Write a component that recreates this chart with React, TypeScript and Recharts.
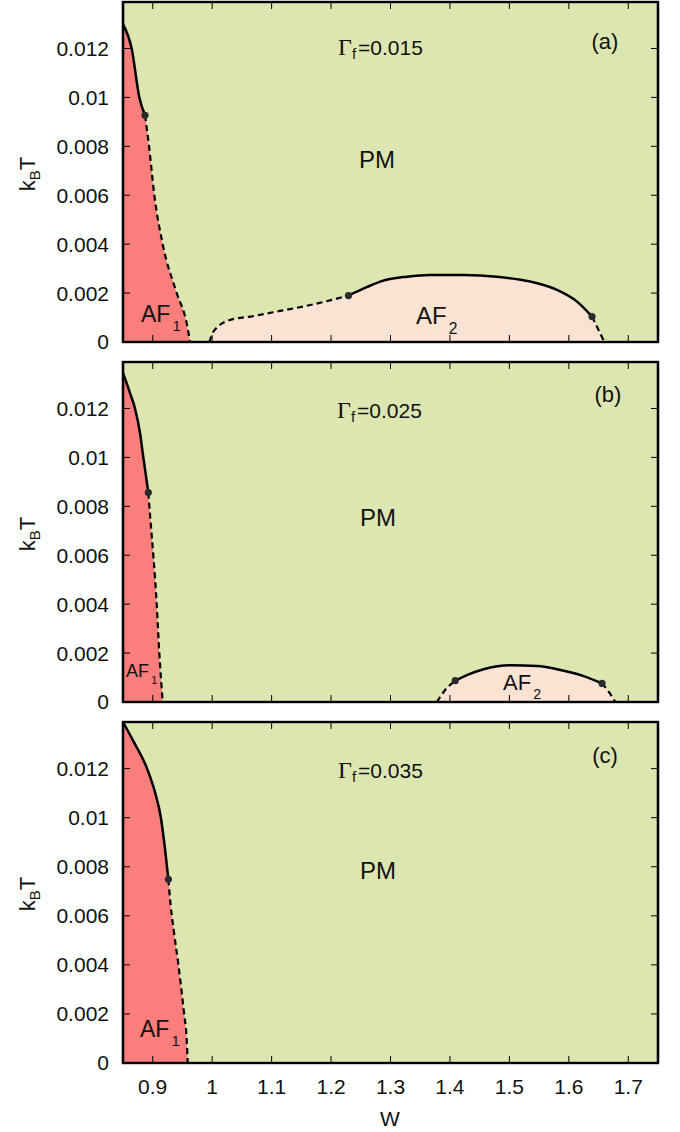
import React from 'react';
import { ComposedChart, Area, Line, Scatter, XAxis, YAxis, CartesianGrid } from 'recharts';

type Pt = { w: number; t: number };

const W_TICKS = [0.9, 1, 1.1, 1.2, 1.3, 1.4, 1.5, 1.6, 1.7];
const T_TICKS = [0, 0.002, 0.004, 0.006, 0.008, 0.01, 0.012];
const W_DOMAIN = [0.85, 1.75];
const T_DOMAIN = [0, 0.0139];

// (a) Gamma_f = 0.015
const af1SolidA: Pt[] = [
  { w: 0.85, t: 0.0130 }, { w: 0.8646, t: 0.0120 }, { w: 0.8775, t: 0.0100 }, { w: 0.887, t: 0.00927 },
];
const af1DashA: Pt[] = [
  { w: 0.887, t: 0.00927 }, { w: 0.8938, t: 0.0080 }, { w: 0.9027, t: 0.0060 }, { w: 0.9168, t: 0.0040 },
  { w: 0.9404, t: 0.0020 }, { w: 0.9572, t: 0.00076 }, { w: 0.9628, t: 0 },
];
const af2LeftA: Pt[] = [
  { w: 0.9953, t: 0 }, { w: 1.002, t: 0.00042 }, { w: 1.03, t: 0.0009 }, { w: 1.0694, t: 0.00106 },
  { w: 1.1143, t: 0.00127 }, { w: 1.1704, t: 0.00154 }, { w: 1.2293, t: 0.0019 },
];
const af2SolidA: Pt[] = [
  { w: 1.2293, t: 0.0019 }, { w: 1.26, t: 0.00224 }, { w: 1.2827, t: 0.00247 }, { w: 1.3276, t: 0.00267 },
  { w: 1.3668, t: 0.00274 }, { w: 1.4229, t: 0.00274 }, { w: 1.4791, t: 0.00267 }, { w: 1.5352, t: 0.00247 },
  { w: 1.58, t: 0.00213 }, { w: 1.6138, t: 0.00165 }, { w: 1.639, t: 0.00104 },
];
const af2RightA: Pt[] = [{ w: 1.639, t: 0.00104 }, { w: 1.65, t: 0.00049 }, { w: 1.6598, t: 0 }];
const dotsA: Pt[] = [{ w: 0.887, t: 0.00927 }, { w: 1.2293, t: 0.0019 }, { w: 1.639, t: 0.00104 }];

// (b) Gamma_f = 0.025
const af1SolidB: Pt[] = [
  { w: 0.85, t: 0.01345 }, { w: 0.8618, t: 0.01263 }, { w: 0.8702, t: 0.0120 }, { w: 0.8786, t: 0.0110 },
  { w: 0.8842, t: 0.0100 }, { w: 0.8926, t: 0.00856 },
];
const af1DashB: Pt[] = [
  { w: 0.8926, t: 0.00856 }, { w: 0.8966, t: 0.00731 }, { w: 0.901, t: 0.0060 }, { w: 0.9067, t: 0.0040 },
  { w: 0.9111, t: 0.0020 }, { w: 0.9168, t: 0 },
];
const af2LeftB: Pt[] = [{ w: 1.3781, t: 0 }, { w: 1.392, t: 0.00049 }, { w: 1.4089, t: 0.00087 }];
const af2SolidB: Pt[] = [
  { w: 1.4089, t: 0.00087 }, { w: 1.4286, t: 0.0011 }, { w: 1.4566, t: 0.00134 }, { w: 1.5015, t: 0.0015 },
  { w: 1.5465, t: 0.00147 }, { w: 1.5857, t: 0.00131 }, { w: 1.6249, t: 0.00106 }, { w: 1.6559, t: 0.00076 },
];
const af2RightB: Pt[] = [{ w: 1.6559, t: 0.00076 }, { w: 1.6687, t: 0.00036 }, { w: 1.6783, t: 0 }];
const dotsB: Pt[] = [{ w: 0.8926, t: 0.00856 }, { w: 1.4089, t: 0.00087 }, { w: 1.6559, t: 0.00076 }];

// (c) Gamma_f = 0.035
const af1SolidC: Pt[] = [
  { w: 0.85, t: 0.0139 }, { w: 0.8674, t: 0.01312 }, { w: 0.8899, t: 0.01204 }, { w: 0.9039, t: 0.01103 },
  { w: 0.9134, t: 0.01005 }, { w: 0.9207, t: 0.00872 }, { w: 0.9263, t: 0.00749 },
];
const af1DashC: Pt[] = [
  { w: 0.9263, t: 0.00749 }, { w: 0.9303, t: 0.0064 }, { w: 0.9359, t: 0.0053 }, { w: 0.9431, t: 0.00402 },
  { w: 0.9527, t: 0.00203 }, { w: 0.9572, t: 0.00094 }, { w: 0.9589, t: 0 },
];
const dotsC: Pt[] = [{ w: 0.9263, t: 0.00749 }];

const GREEN = '#dce6b0';
const RED = '#fa7e7b';
const PINK = '#fbe3d4';
const SANS = '"Liberation Sans", Arial, Helvetica, sans-serif';
const SERIF = '"Liberation Serif", "Times New Roman", serif';

const tickStyle = { fontSize: 21, fill: '#111', fontFamily: SANS };
const blank = () => '';

const TOP_H = 30;

interface PanelProps {
  af1Solid: Pt[];
  af1Dash: Pt[];
  af2Left?: Pt[];
  af2Solid?: Pt[];
  af2Right?: Pt[];
  dots: Pt[];
  showW: boolean;
  plotHeight: number;
}

const Dot = (p: any) => <circle cx={p.cx} cy={p.cy} r={3.6} fill="#2a2a2a" />;

const Panel: React.FC<PanelProps> = ({ af1Solid, af1Dash, af2Left, af2Solid, af2Right, dots, showW, plotHeight }) => {
  const af1Fill = [...af1Solid, ...af1Dash.slice(1)];
  const af2Fill = af2Left && af2Solid && af2Right ? [...af2Left, ...af2Solid.slice(1), ...af2Right.slice(1)] : null;
  const axisLine = { stroke: '#000', strokeWidth: 2.2 };
  const tickLine = { stroke: '#000', strokeWidth: 1 };
  const bottomH = showW ? 69 : 30;
  return (
    <ComposedChart width={680} height={TOP_H + plotHeight + bottomH} margin={{ top: 0, right: 0, bottom: 0, left: 0 }}>
      <CartesianGrid xAxisId="b" yAxisId="l" fill={GREEN} horizontal={false} vertical={false} stroke="none" />
      <XAxis xAxisId="b" type="number" dataKey="w" domain={W_DOMAIN} ticks={W_TICKS} allowDataOverflow
        height={bottomH} tickSize={-7} tickMargin={23} tick={tickStyle}
        tickFormatter={showW ? undefined : blank} axisLine={axisLine} tickLine={tickLine} />
      <XAxis xAxisId="top" orientation="top" type="number" dataKey="w" domain={W_DOMAIN} ticks={W_TICKS} allowDataOverflow
        height={TOP_H} tickSize={-7} tickFormatter={blank} axisLine={axisLine} tickLine={tickLine} />
      <YAxis yAxisId="l" type="number" dataKey="t" domain={T_DOMAIN} ticks={T_TICKS} allowDataOverflow
        width={123} tickSize={-7} tickMargin={21} tick={tickStyle} axisLine={axisLine} tickLine={tickLine} />
      <YAxis yAxisId="r" orientation="right" type="number" dataKey="t" domain={T_DOMAIN} ticks={T_TICKS} allowDataOverflow
        width={22} tickSize={-7} tickFormatter={blank} axisLine={axisLine} tickLine={tickLine} />

      <Area xAxisId="b" yAxisId="l" data={af1Fill} dataKey="t" type="monotone" fill={RED} fillOpacity={1}
        stroke="none" isAnimationActive={false} />
      {af2Fill && (
        <Area xAxisId="b" yAxisId="l" data={af2Fill} dataKey="t" type="monotone" fill={PINK} fillOpacity={1}
          stroke="none" isAnimationActive={false} />
      )}
      <Line xAxisId="b" yAxisId="l" data={af1Solid} dataKey="t" type="monotone" stroke="#000" strokeWidth={2.5}
        dot={false} isAnimationActive={false} />
      <Line xAxisId="b" yAxisId="l" data={af1Dash} dataKey="t" type="monotone" stroke="#000" strokeWidth={2.2}
        strokeDasharray="6 4" dot={false} isAnimationActive={false} />
      {af2Left && (
        <Line xAxisId="b" yAxisId="l" data={af2Left} dataKey="t" type="monotone" stroke="#000" strokeWidth={2.2}
          strokeDasharray="6 4" dot={false} isAnimationActive={false} />
      )}
      {af2Solid && (
        <Line xAxisId="b" yAxisId="l" data={af2Solid} dataKey="t" type="monotone" stroke="#000" strokeWidth={2.5}
          dot={false} isAnimationActive={false} />
      )}
      {af2Right && (
        <Line xAxisId="b" yAxisId="l" data={af2Right} dataKey="t" type="monotone" stroke="#000" strokeWidth={2.2}
          strokeDasharray="6 4" dot={false} isAnimationActive={false} />
      )}
      {/* invisible series so the mirrored top axis has an item */}
      <Line xAxisId="top" yAxisId="r" data={dots} dataKey="t" stroke="none" dot={false} isAnimationActive={false} />
      <Scatter xAxisId="b" yAxisId="l" data={dots} dataKey="t" shape={Dot} isAnimationActive={false} />
    </ComposedChart>
  );
};

const Gamma = ({ x, y, value }: { x: number; y: number; value: string }) => (
  <text x={x} y={y} fill="#111" fontFamily={SANS} fontSize={21}>
    <tspan fontFamily={SERIF} fontSize={24}>Γ</tspan>
    <tspan fontSize={15} dy={4}>f</tspan>
    <tspan dy={-4} dx={2}>{'=' + value}</tspan>
  </text>
);

const Phase = ({ x, y, name, sub, size }: { x: number; y: number; name: string; sub: string; size: number }) => (
  <text x={x} y={y} fill="#111" fontFamily={SANS} fontSize={size}>
    {name}
    <tspan fontSize={size * 0.65} dy={size * 0.4} dx={2}>{sub}</tspan>
  </text>
);

const KbT = ({ cy }: { cy: number }) => (
  <text transform={`translate(35,${cy}) rotate(-90)`} textAnchor="middle" fill="#111" fontFamily={SANS} fontSize={22}>
    k<tspan fontSize={15} dy={5}>B</tspan><tspan dy={-5}>T</tspan>
  </text>
);

// plot frames (layout only)
const FRAMES = [
  { top: 2, height: 340 },
  { top: 362, height: 340 },
  { top: 722, height: 341 },
];

export default function App() {
  return (
    <div style={{ position: 'absolute', left: 0, top: 0, width: 680, height: 1132, background: '#fff', overflow: 'hidden' }}>
      <div style={{ position: 'absolute', left: 0, top: 2 - TOP_H }}>
        <Panel af1Solid={af1SolidA} af1Dash={af1DashA} af2Left={af2LeftA} af2Solid={af2SolidA} af2Right={af2RightA}
          dots={dotsA} showW={false} plotHeight={340} />
      </div>
      <div style={{ position: 'absolute', left: 0, top: 362 - TOP_H }}>
        <Panel af1Solid={af1SolidB} af1Dash={af1DashB} af2Left={af2LeftB} af2Solid={af2SolidB} af2Right={af2RightB}
          dots={dotsB} showW={false} plotHeight={340} />
      </div>
      <div style={{ position: 'absolute', left: 0, top: 722 - TOP_H }}>
        <Panel af1Solid={af1SolidC} af1Dash={af1DashC} dots={dotsC} showW={true} plotHeight={341} />
      </div>
      <svg width={680} height={1132} style={{ position: 'absolute', left: 0, top: 0, pointerEvents: 'none' }}>
        {FRAMES.map((f) => (
          <rect key={f.top} x={123} y={f.top} width={535} height={f.height} fill="none" stroke="#000" strokeWidth={2.4} />
        ))}
        <KbT cy={174} />
        <KbT cy={534} />
        <KbT cy={894} />
        <text x={390} y={1126} textAnchor="middle" fill="#111" fontFamily={SANS} fontSize={21}>W</text>

        <Gamma x={338} y={55} value="0.015" />
        <text x={605} y={49} textAnchor="middle" fill="#111" fontFamily={SANS} fontSize={22}>(a)</text>
        <text x={377} y={168} textAnchor="middle" fill="#111" fontFamily={SANS} fontSize={24}>PM</text>
        <Phase x={141} y={322} name="AF" sub="1" size={23} />
        <Phase x={416} y={324} name="AF" sub="2" size={24} />

        <Gamma x={337} y={418} value="0.025" />
        <text x={608} y={402} textAnchor="middle" fill="#111" fontFamily={SANS} fontSize={22}>(b)</text>
        <text x={378} y={526} textAnchor="middle" fill="#111" fontFamily={SANS} fontSize={24}>PM</text>
        <Phase x={126} y={677} name="AF" sub="1" size={18} />
        <Phase x={503} y={690} name="AF" sub="2" size={22} />

        <Gamma x={338} y={778} value="0.035" />
        <text x={605} y={763} textAnchor="middle" fill="#111" fontFamily={SANS} fontSize={22}>(c)</text>
        <text x={378} y={879} textAnchor="middle" fill="#111" fontFamily={SANS} fontSize={24}>PM</text>
        <Phase x={140} y={1037} name="AF" sub="1" size={23} />
      </svg>
    </div>
  );
}
